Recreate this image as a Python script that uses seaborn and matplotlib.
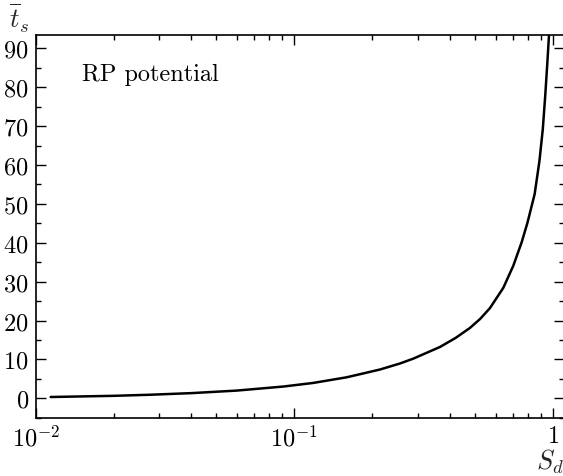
import matplotlib
matplotlib.use("Agg")
import matplotlib.pyplot as plt
import matplotlib.ticker as mticker
import seaborn as sns
import pandas as pd

# Data
S_d = [0.01143, 0.01996, 0.0277, 0.0401, 0.0599, 0.0907, 0.1184, 0.1595,
       0.2145, 0.2563, 0.2886, 0.366, 0.42, 0.478, 0.523, 0.571, 0.643,
       0.703, 0.757, 0.797, 0.850, 0.887, 0.914, 0.934, 0.952, 0.966, 0.976]
t_s = [0.33, 0.63, 0.91, 1.33, 1.98, 3.02, 3.95, 5.4,
       7.4, 8.95, 10.2, 13.2, 15.5, 18.1, 20.4, 23.2, 28.4,
       34.1, 40.1, 45.1, 52.5, 61.0, 69.2, 77.8, 86.4, 93.5, 100.0]

x_ticks = [0.01, 0.1, 1.0]
x_ticklabels = [r"$10^{-2}$", r"$10^{-1}$", r"$1$"]
y_ticks = [0, 10, 20, 30, 40, 50, 60, 70, 80, 90]
annotation = "RP potential"

sns.set_style("ticks")
plt.rcParams["font.family"] = ["serif"]
plt.rcParams["font.serif"] = ["cmr10", "DejaVu Serif"]
plt.rcParams["mathtext.fontset"] = "cm"
plt.rcParams["axes.formatter.use_mathtext"] = True
plt.rcParams["axes.unicode_minus"] = False

df = pd.DataFrame({"S_d": S_d, "t_s": t_s})

fig = plt.figure(figsize=(5.63, 4.77), dpi=100)
W, H = 563, 477
left_px, right_px, top_px, bottom_px = 35.7, 563.6, 35.7, 419.0
ax = fig.add_axes([left_px / W, 1 - bottom_px / H,
                   (right_px - left_px) / W, (bottom_px - top_px) / H])

sns.lineplot(data=df, x="S_d", y="t_s", ax=ax, color="black", lw=1.8,
             sort=False, estimator=None)

ax.set_xscale("log")
ax.set_xlim(0.01, 1.1)
ax.set_ylim(-5.07, 93.5)

ax.xaxis.set_major_locator(mticker.FixedLocator(x_ticks))
ax.xaxis.set_major_formatter(mticker.FixedFormatter(x_ticklabels))
ax.xaxis.set_minor_locator(mticker.LogLocator(base=10, subs=range(2, 10)))
ax.xaxis.set_minor_formatter(mticker.NullFormatter())
ax.yaxis.set_major_locator(mticker.FixedLocator(y_ticks))
ax.yaxis.set_minor_locator(mticker.MultipleLocator(5))

ax.tick_params(which="both", direction="in", top=True, right=True,
               labelsize=17.5, width=1.0, color="black", labelcolor="black")
ax.tick_params(which="major", length=7, pad=5)
ax.tick_params(which="minor", length=3.5)

for sp in ax.spines.values():
    sp.set_linewidth(1.2)
    sp.set_color("black")

ax.set_xlabel("")
ax.set_ylabel("")

ax.text(0.088, 0.8975, annotation, transform=ax.transAxes, fontsize=17.5,
        ha="left", va="center", color="black")

fig.text(19 / W, 1 - 18 / H, r"$\overline{t}_s$", fontsize=19,
         ha="center", va="center")
fig.text(550 / W, 1 - 462 / H, r"$S_d$", fontsize=19,
         ha="center", va="center")

fig.savefig("out.png", dpi=100)
